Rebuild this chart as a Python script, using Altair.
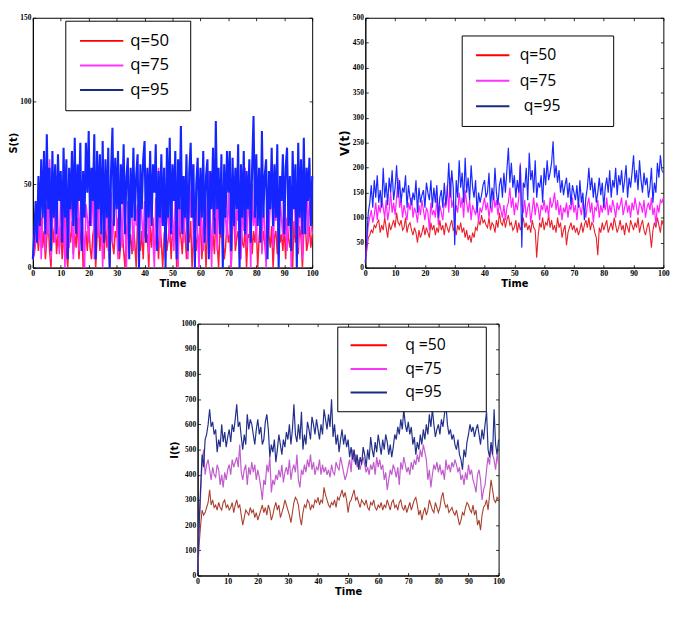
import altair as alt
import pandas as pd

# ---------------- data (step 0.5 time units) ----------------
time_step = 0.5
labels = ["q=50", "q=75", "q=95"]

S_q50 = [5, 8, 15, 20, 10, 25, 30, 12, 22, 5, 18, 28, 10, 0, 25, 15, 30, 8, 20, 12,
         25, 5, 18, 30, 10, 0, 22, 15, 28, 8, 20, 12, 30, 5, 18, 25, 0, 15, 22, 10,
         28, 12, 5, 20, 25, 0, 18, 30, 10, 22, 15, 5, 28, 12, 20, 0, 25, 15, 8, 22,
         18, 30, 5, 15, 25, 10, 0, 22, 28, 12, 20, 8, 25, 15, 0, 30, 18, 10, 22, 5,
         28, 15, 20, 0, 25, 12, 30, 8, 18, 22, 5, 28, 15, 0, 20, 25, 10, 18, 30, 5,
         22, 15, 28, 0, 12, 25, 18, 8, 30, 20, 5, 22, 15, 28, 0, 18, 25, 10, 20, 12,
         30, 5, 18, 22, 0, 25, 15, 28, 10, 20, 8, 30, 15, 0, 22, 18, 25, 5, 12, 28,
         15, 20, 0, 25, 30, 10, 18, 22, 5, 28, 15, 12, 25, 0, 20, 18, 30, 8, 22, 15,
         25, 0, 18, 28, 10, 22, 15, 5, 30, 20, 12, 25, 0, 18, 22, 8, 28, 15, 20, 10,
         25, 5, 30, 18, 12, 22, 0, 28, 15, 20, 8, 25, 18, 0, 22, 30, 10, 15, 25, 12,
         20]
S_q75 = [5, 10, 20, 35, 15, 40, 5, 30, 45, 10, 38, 20, 65, 5, 30, 42, 15, 55, 25, 8,
         45, 20, 35, 0, 40, 28, 12, 50, 30, 5, 42, 25, 60, 10, 35, 48, 20, 0, 38, 30,
         15, 45, 25, 55, 5, 35, 42, 18, 60, 30, 0, 40, 22, 50, 10, 38, 45, 15, 30, 58,
         25, 5, 42, 35, 12, 50, 28, 0, 40, 20, 55, 30, 10, 45, 25, 38, 5, 48, 30, 15,
         40, 22, 58, 8, 35, 45, 18, 0, 42, 30, 60, 12, 38, 25, 50, 5, 40, 28, 15, 52,
         30, 10, 45, 35, 0, 40, 22, 55, 15, 38, 28, 5, 48, 30, 62, 12, 35, 45, 20, 0,
         42, 28, 10, 50, 35, 15, 58, 25, 0, 40, 30, 65, 10, 45, 22, 38, 5, 52, 30, 18,
         45, 25, 0, 40, 55, 15, 35, 28, 48, 5, 38, 22, 60, 12, 42, 30, 0, 50, 25, 35,
         15, 45, 30, 55, 8, 38, 25, 0, 48, 20, 40, 62, 12, 35, 28, 50, 5, 42, 30, 18,
         55, 25, 10, 45, 35, 0, 40, 58, 20, 38, 12, 50, 30, 5, 45, 25, 60, 15, 40, 30,
         20]
S_q95 = [5, 20, 40, 15, 55, 25, 65, 30, 70, 20, 80, 35, 60, 10, 70, 30, 62, 20, 68, 40,
         58, 15, 72, 30, 65, 5, 60, 35, 70, 25, 78, 20, 62, 40, 75, 10, 58, 30, 75, 45,
         82, 25, 60, 40, 80, 5, 70, 35, 68, 20, 76, 15, 65, 30, 72, 0, 58, 84, 25, 66,
         35, 70, 10, 62, 38, 74, 20, 55, 66, 5, 60, 30, 72, 28, 55, 68, 0, 62, 35, 65,
         76, 15, 60, 30, 70, 25, 62, 45, 74, 10, 58, 30, 68, 25, 60, 0, 72, 30, 78, 20,
         62, 40, 70, 5, 65, 35, 85, 20, 55, 30, 68, 10, 58, 75, 30, 62, 0, 50, 66, 25,
         60, 30, 70, 15, 55, 65, 5, 58, 35, 72, 20, 88, 35, 60, 20, 68, 0, 62, 30, 70,
         45, 70, 10, 66, 25, 60, 35, 74, 0, 62, 30, 70, 20, 58, 35, 65, 15, 60, 91, 30,
         68, 25, 60, 15, 82, 30, 55, 65, 5, 58, 35, 72, 25, 62, 30, 74, 0, 55, 40, 68,
         20, 60, 72, 25, 55, 10, 70, 35, 62, 0, 75, 30, 65, 20, 78, 20, 60, 40, 66, 25,
         55]

V_q50 = [10, 35, 60, 65, 75, 70, 85, 80, 90, 95, 70, 85, 75, 100, 80, 60, 90, 75, 85, 95,
         80, 110, 90, 85, 95, 75, 80, 100, 70, 85, 90, 75, 65, 80, 70, 50, 75, 60, 70, 85,
         65, 80, 70, 60, 90, 75, 85, 65, 80, 70, 95, 75, 85, 65, 90, 80, 70, 85, 95, 75,
         80, 65, 85, 75, 90, 70, 80, 60, 75, 55, 65, 50, 70, 60, 80, 75, 95, 85, 105, 90,
         95, 85, 80, 100, 75, 90, 85, 70, 95, 80, 110, 90, 85, 100, 80, 95, 105, 85, 90, 75,
         80, 95, 70, 90, 75, 85, 100, 80, 90, 75, 85, 70, 95, 80, 75, 20, 65, 90, 80, 100,
         75, 90, 85, 105, 80, 95, 75, 85, 70, 100, 80, 90, 60, 75, 85, 45, 70, 80, 90, 75,
         85, 70, 80, 65, 75, 90, 70, 85, 95, 80, 100, 75, 90, 85, 70, 60, 25, 80, 70, 90,
         75, 85, 95, 70, 80, 90, 75, 100, 85, 70, 80, 95, 75, 85, 65, 90, 80, 70, 95, 85,
         75, 90, 80, 100, 70, 85, 95, 75, 65, 80, 90, 70, 40, 75, 90, 80, 100, 85, 70, 95,
         85]
V_q75 = [10, 50, 85, 100, 115, 90, 105, 130, 95, 125, 110, 140, 120, 100, 135, 95, 115, 150, 110, 130,
         105, 140, 180, 120, 135, 100, 125, 110, 95, 130, 115, 140, 100, 120, 110, 90, 125, 105, 135, 115,
         95, 120, 110, 75, 130, 105, 115, 100, 140, 85, 125, 110, 95, 130, 120, 165, 110, 180, 120, 135,
         95, 125, 110, 150, 120, 140, 100, 155, 130, 110, 135, 95, 125, 115, 105, 130, 90, 120, 110, 125,
         140, 115, 130, 100, 125, 110, 150, 120, 135, 105, 130, 115, 100, 125, 95, 120, 130, 160, 120, 140,
         105, 130, 115, 140, 210, 125, 110, 135, 100, 120, 130, 90, 115, 140, 105, 130, 120, 95, 125, 115,
         135, 110, 125, 100, 140, 120, 130, 150, 115, 135, 105, 125, 95, 120, 110, 130, 100, 125, 115, 140,
         110, 125, 95, 130, 120, 105, 135, 115, 100, 125, 140, 110, 130, 90, 120, 115, 135, 100, 125, 110,
         130, 115, 140, 105, 125, 110, 135, 120, 100, 130, 115, 125, 140, 105, 120, 135, 110, 125, 100, 130,
         115, 140, 120, 105, 130, 125, 110, 135, 100, 120, 130, 115, 140, 105, 120, 85, 125, 110, 135, 130,
         140]
V_q95 = [10, 60, 110, 130, 165, 120, 175, 140, 185, 130, 155, 120, 200, 140, 170, 125, 180, 150, 195, 135,
         160, 205, 140, 175, 130, 160, 150, 185, 120, 165, 140, 125, 150, 135, 175, 110, 160, 130, 145, 155,
         120, 170, 150, 135, 175, 120, 160, 130, 165, 100, 140, 155, 120, 170, 125, 150, 210, 140, 195, 160,
         45, 175, 140, 215, 160, 190, 130, 220, 150, 180, 135, 205, 160, 140, 175, 110, 150, 130, 145, 165,
         175, 140, 150, 190, 120, 160, 135, 200, 150, 125, 165, 180, 140, 190, 150, 195, 240, 170, 210, 160,
         185, 140, 175, 150, 205, 40, 170, 160, 200, 135, 230, 175, 195, 150, 215, 140, 170, 160, 185, 130,
         200, 165, 215, 175, 190, 210, 253, 180, 205, 170, 195, 150, 175, 145, 165, 180, 140, 170, 125, 165,
         150, 135, 165, 120, 175, 130, 150, 95, 140, 160, 200, 155, 180, 140, 170, 130, 150, 180, 145, 170,
         120, 160, 180, 150, 195, 140, 175, 160, 200, 145, 185, 165, 195, 150, 175, 205, 140, 180, 160, 190,
         225, 170, 195, 155, 215, 175, 150, 190, 165, 180, 140, 160, 200, 130, 170, 150, 210, 180, 225, 195,
         190]

I_q50 = [10, 120, 200, 260, 240, 250, 270, 290, 340, 280, 300, 270, 280, 260, 290, 270, 260, 290, 300, 270,
         280, 260, 270, 290, 250, 280, 300, 270, 280, 240, 200, 230, 260, 250, 240, 270, 250, 260, 230, 250,
         220, 240, 260, 280, 250, 270, 240, 280, 260, 220, 240, 270, 290, 260, 280, 230, 250, 270, 300, 280,
         260, 240, 210, 250, 290, 310, 300, 280, 230, 200, 250, 280, 270, 300, 290, 260, 280, 270, 300, 290,
         310, 280, 300, 290, 350, 320, 300, 280, 270, 290, 280, 300, 270, 310, 300, 320, 340, 310, 330, 300,
         250, 290, 300, 320, 340, 300, 310, 290, 270, 300, 290, 280, 300, 270, 260, 290, 280, 300, 270, 260,
         280, 270, 290, 260, 280, 270, 300, 280, 260, 290, 300, 270, 280, 260, 290, 300, 270, 260, 280, 250,
         270, 290, 260, 280, 300, 310, 280, 240, 260, 220, 250, 270, 240, 260, 300, 280, 260, 250, 290, 270,
         250, 270, 310, 330, 290, 270, 280, 250, 260, 270, 250, 240, 260, 230, 200, 220, 250, 240, 270, 290,
         280, 260, 250, 280, 240, 260, 200, 220, 180, 240, 270, 280, 300, 260, 320, 380, 340, 300, 290, 310,
         300]
I_q75 = [10, 180, 320, 450, 500, 400, 440, 460, 420, 380, 430, 400, 390, 440, 420, 360, 400, 350, 410, 380,
         420, 440, 400, 460, 430, 450, 470, 430, 520, 410, 380, 420, 440, 360, 430, 400, 450, 410, 440, 380,
         420, 390, 350, 300, 380, 360, 440, 410, 470, 330, 380, 360, 400, 380, 420, 390, 440, 370, 410, 430,
         400, 460, 380, 420, 440, 410, 480, 380, 350, 420, 400, 440, 410, 460, 430, 480, 420, 450, 400, 430,
         420, 460, 400, 440, 410, 430, 400, 420, 390, 440, 410, 400, 450, 430, 420, 470, 440, 410, 380, 400,
         430, 460, 410, 500, 450, 480, 430, 460, 420, 450, 470, 440, 410, 430, 400, 440, 420, 450, 400, 470,
         430, 460, 420, 440, 380, 410, 340, 380, 420, 400, 440, 420, 390, 430, 360, 450, 420, 470, 440, 410,
         430, 400, 450, 420, 460, 440, 480, 450, 500, 470, 520, 490, 460, 380, 420, 350, 400, 440, 420, 450,
         410, 440, 400, 420, 380, 460, 420, 440, 410, 450, 430, 460, 440, 410, 430, 380, 400, 360, 410, 380,
         440, 400, 420, 380, 360, 330, 400, 420, 380, 300, 340, 360, 420, 470, 440, 520, 480, 460, 420, 480,
         440]
I_q95 = [10, 200, 350, 480, 430, 540, 560, 600, 660, 590, 610, 560, 580, 490, 540, 510, 600, 530, 570, 510,
         550, 580, 530, 600, 570, 620, 680, 590, 610, 550, 500, 560, 520, 640, 580, 620, 600, 560, 520, 580,
         620, 560, 590, 520, 540, 610, 640, 580, 470, 520, 490, 540, 450, 500, 560, 520, 480, 540, 510, 570,
         540, 600, 520, 580, 680, 560, 530, 600, 540, 650, 500, 560, 520, 610, 580, 540, 630, 600, 560, 620,
         580, 540, 600, 560, 660, 620, 580, 640, 590, 700, 550, 600, 520, 560, 490, 540, 580, 520, 560, 510,
         540, 470, 510, 460, 500, 440, 480, 420, 470, 440, 510, 480, 430, 500, 460, 550, 500, 470, 530, 490,
         560, 520, 480, 540, 500, 560, 530, 480, 520, 470, 510, 560, 540, 590, 560, 620, 580, 660, 600, 570,
         610, 560, 590, 520, 550, 480, 530, 500, 560, 520, 580, 540, 600, 560, 640, 590, 660, 600, 550, 580,
         600, 560, 620, 590, 640, 680, 600, 560, 580, 540, 560, 520, 500, 540, 480, 460, 420, 500, 470, 530,
         560, 600, 570, 590, 550, 580, 600, 560, 520, 580, 540, 600, 650, 500, 470, 530, 480, 660, 520, 480,
         540]

x_ticks = [0, 10, 20, 30, 40, 50, 60, 70, 80, 90, 100]


def long_table(series_list):
    rows = []
    for lab, vals in zip(labels, series_list):
        for i, v in enumerate(vals):
            rows.append({"t": i * time_step, "v": v, "series": lab})
    return pd.DataFrame(rows)


AX_LABEL_FONT = "Liberation Sans Narrow"
AX_TITLE_FONT = "DejaVu Sans"
LEG_FONT = "Open Sans"
SYM = 11.0  # sqrt(symbolSize)
NBSP = "\u00a0"
ZW = "\u200b"  # keeps the padding spaces from being trimmed


def panel(series_list, ymax, ystep, ytitle, w, h, line_colors, line_widths, leg_labels, leg_colors,
          leg_x, leg_y, leg_pad, leg_row, leg_sym_len, leg_gap, leg_tail, ytitle_size, leg_font):
    df = long_table(series_list)
    yticks = list(range(0, ymax + 1, ystep))
    xax = alt.Axis(values=x_ticks, title="Time", labelFont=AX_LABEL_FONT, labelFontWeight="bold",
                   labelFontSize=8, titleFont=AX_TITLE_FONT, titleFontWeight="bold", titleFontSize=10,
                   titlePadding=1, labelPadding=2, tickSize=0, domainColor="black",
                   grid=True, gridColor="black", gridWidth=0.8, gridDash=[3, h - 6, 3, 2000],
                   labelFlush=False)
    yax = alt.Axis(values=yticks, title=ytitle, format="d", labelFont=AX_LABEL_FONT,
                   labelFontWeight="bold", labelFontSize=7.5, titleFont=AX_TITLE_FONT,
                   titleFontWeight="bold", titleFontSize=ytitle_size, titlePadding=1,
                   labelPadding=2, tickSize=0, domainColor="black", grid=True, gridColor="black",
                   gridWidth=0.8, gridDash=[3, w - 6, 3, 2000], labelFlush=False)
    x = alt.X("t:Q", scale=alt.Scale(domain=[0, 100], nice=False), axis=xax)
    y = alt.Y("v:Q", scale=alt.Scale(domain=[0, ymax], nice=False), axis=yax)
    layers = []
    for lab, col, lw in zip(labels, line_colors, line_widths):
        layers.append(
            alt.Chart(df).transform_filter(alt.datum.series == lab)
            .mark_line(strokeWidth=lw, color=col).encode(x=x, y=y)
        )
    leg_df = pd.DataFrame({"t": [0, 0, 0], "v": [0, 0, 0], "key": leg_labels})
    r = SYM / 2.0
    end = leg_sym_len / r - 1.0
    tail = NBSP * leg_tail + ZW
    leg = alt.Chart(leg_df).mark_line(strokeWidth=2).encode(
        x=x, y=y,
        color=alt.Color("key:N", scale=alt.Scale(domain=leg_labels, range=leg_colors),
                        legend=alt.Legend(title=None, orient="none", legendX=leg_x, legendY=leg_y,
                                          strokeColor="black", fillColor="white", padding=leg_pad,
                                          rowPadding=leg_row,
                                          symbolType=f"M-1,0H{end:.3f}",
                                          symbolSize=SYM * SYM, symbolStrokeWidth=2,
                                          labelFont=LEG_FONT, labelFontSize=leg_font,
                                          labelColor="black",
                                          labelOffset=leg_sym_len - SYM + leg_gap, labelLimit=500,
                                          labelExpr=f"datum.label + '{tail}'")),
    )
    layers.append(leg)
    return alt.layer(*layers).properties(width=w, height=h)


p1 = panel([S_q50, S_q75, S_q95], 150, 50, "S(t)", 284, 254,
           ["#ff1a3c", "#ff2bff", "#1425ff"], [1.5, 1.6, 2.1], ["q=50", "q=75", "q=95"],
           ["#ff0000", "#ff33ff", "#1b2a80"], 33, 3, 12, 7, 44, 4, 2, 10, 17)
p2 = panel([V_q50, V_q75, V_q95], 500, 50, "V(t)", 303, 254,
           ["#e8202a", "#ff22ff", "#1a28ff"], [1.1, 1.2, 1.2],
           ["q=50", "q=75", ZW + NBSP + "q=95"],
           ["#ff0000", "#ff33ff", "#1b2a80"], 98, 18, 12, 10, 34, 8, 10, 12, 16)
p3 = panel([I_q50, I_q75, I_q95], 1000, 100, "I(t)", 306, 256,
           ["#a8402e", "#c05ccc", "#23308a"], [1.1, 1.2, 1.2], ["q" + NBSP + "=50", "q=75", "q=95"],
           ["#ff0000", "#ff33ff", "#1b2a80"], 142, 3, 11, 8, 37, 16, 7, 10, 16)

top = alt.hconcat(p1, p2, spacing=19).resolve_scale(color="independent")
chart = alt.vconcat(top, p3, spacing=30, center=True).resolve_scale(color="independent").properties(
    padding={"left": 0, "top": 0, "right": 0, "bottom": 0}
).configure_view(stroke="black", strokeWidth=1).configure_axis(
    labelColor="black", titleColor="black")

chart.save("out.html", embed_options={"renderer": "svg", "actions": False})
